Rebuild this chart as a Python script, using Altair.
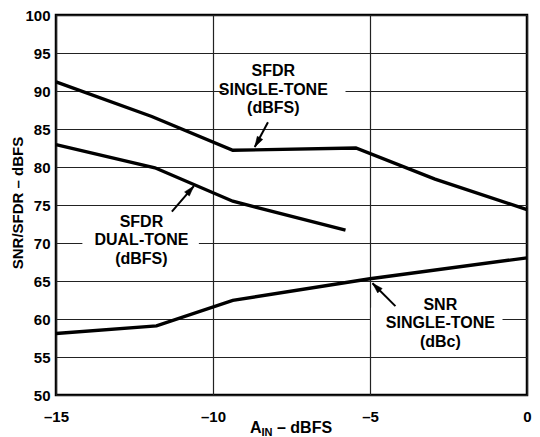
import altair as alt
import pandas as pd

# ---- data ----
sfdr_single_x = [-15, -11.95, -9.37, -5.45, -2.93, 0]
sfdr_single_y = [91.2, 86.65, 82.2, 82.5, 78.4, 74.4]
sfdr_dual_x = [-15, -11.85, -9.37, -5.78]
sfdr_dual_y = [82.95, 79.9, 75.5, 71.7]
snr_x = [-15, -11.8, -9.37, -5, 0]
snr_y = [58.1, 59.1, 62.45, 65.3, 68.05]

x_ticks = [-15, -10, -5, 0]
y_ticks = [50, 55, 60, 65, 70, 75, 80, 85, 90, 95, 100]

label_texts = ["SFDR\nSINGLE-TONE\n(dBFS)", "SFDR\nDUAL-TONE\n(dBFS)", "SNR\nSINGLE-TONE\n(dBc)"]
label_x = [-8.08, -12.28, -2.76]
label_y = [92.6, 72.8, 61.9]
gap_x1 = [-9.64, -14.16, -4.97]
gap_x2 = [-5.78, -10.45, -0.78]
gap_y = [90, 70, 60]
arrow_x1 = [-8.25, -11.31, -4.19]
arrow_y1 = [85.9, 74.12, 61.69]
arrow_x2 = [-8.67, -10.61, -4.92]
arrow_y2 = [82.63, 77.49, 64.7]
arrow_angle = [210, 41, 315]

FONT = "Liberation Sans"

lines_df = pd.concat([
    pd.DataFrame({"x": sfdr_single_x, "y": sfdr_single_y, "s": "SFDR single"}),
    pd.DataFrame({"x": sfdr_dual_x, "y": sfdr_dual_y, "s": "SFDR dual"}),
    pd.DataFrame({"x": snr_x, "y": snr_y, "s": "SNR single"}),
])
lab_df = pd.DataFrame({
    "text": label_texts, "lx": label_x, "ly": label_y,
    "gx1": gap_x1, "gx2": gap_x2,
    "gy1": [g - 1.5 for g in gap_y], "gy2": [g + 1.5 for g in gap_y],
    "ax1": arrow_x1, "ay1": arrow_y1, "ax2": arrow_x2, "ay2": arrow_y2,
    "ang": arrow_angle,
})

xs = alt.Scale(domain=[-15, 0], nice=False, zero=False)
ys = alt.Scale(domain=[50, 100], nice=False, zero=False)

x_axis = alt.Axis(values=x_ticks, title=None, grid=True, ticks=False, domain=False,
                  labelExpr="datum.value < 0 ? '\u2013' + abs(datum.value) : '' + datum.value",
                  labelFont=FONT, labelFontSize=15, labelFontWeight="bold", labelColor="black",
                  labelPadding=14, gridColor="#222", gridWidth=1.2, gridOpacity=1,
                  labelFlush=False, labelOverlap=False)
y_axis = alt.Axis(values=y_ticks, title=None, grid=True, ticks=False, domain=False,
                  labelFont=FONT, labelFontSize=15, labelFontWeight="bold", labelColor="black",
                  labelPadding=6, gridColor="#222", gridWidth=1.2, gridOpacity=1,
                  labelFlush=False, labelOverlap=False)


def X(field):
    return alt.X(field, scale=xs, axis=x_axis, title=None)


def Y(field):
    return alt.Y(field, scale=ys, axis=y_axis, title=None)


lines = alt.Chart(lines_df).mark_line(color="black", strokeWidth=3.4).encode(
    x=X("x:Q"), y=Y("y:Q"), detail="s:N",
)

gaps = alt.Chart(lab_df).mark_rect(color="white").encode(
    x=X("gx1:Q"), x2="gx2:Q", y=Y("gy1:Q"), y2="gy2:Q",
)

labels = alt.Chart(lab_df).mark_text(
    font=FONT, fontSize=16, fontWeight="bold", color="black",
    lineBreak="\n", lineHeight=18.5, align="center", baseline="middle",
).encode(x=X("lx:Q"), y=Y("ly:Q"), text="text:N")

arrows = alt.Chart(lab_df).mark_rule(color="black", strokeWidth=2).encode(
    x=X("ax1:Q"), y=Y("ay1:Q"), x2="ax2:Q", y2="ay2:Q",
)

heads = alt.Chart(lab_df).mark_point(
    shape="M0,0L-0.6,2L0.6,2Z", filled=True, fill="black", stroke="black", strokeWidth=0.5,
    opacity=1, size=110,
).encode(x=X("ax2:Q"), y=Y("ay2:Q"), angle=alt.Angle("ang:Q", scale=None))

one = pd.DataFrame({"t": ["A"]})
ytitle = alt.Chart(one).mark_text(
    text="SNR/SFDR \u2013 dBFS", font=FONT, fontSize=15, fontWeight="bold", color="black",
    angle=270, align="center", baseline="middle",
).encode(x=alt.value(-38), y=alt.value(188))

xt_a = alt.Chart(one).mark_text(
    text="A", font=FONT, fontSize=16, fontWeight="bold", color="black", align="left", baseline="alphabetic",
).encode(x=alt.value(194), y=alt.value(418))
xt_in = alt.Chart(one).mark_text(
    text="IN", font=FONT, fontSize=11, fontWeight="bold", color="black", align="left", baseline="alphabetic",
).encode(x=alt.value(205.5), y=alt.value(421))
xt_rest = alt.Chart(one).mark_text(
    text="\u2013 dBFS", font=FONT, fontSize=16, fontWeight="bold", color="black", align="left", baseline="alphabetic",
).encode(x=alt.value(221), y=alt.value(418))

chart = alt.layer(lines, gaps, labels, arrows, heads, ytitle, xt_a, xt_in, xt_rest).properties(
    width=471, height=380,
    autosize="none",
    padding={"left": 48, "top": 7, "right": 5, "bottom": 42},
    background="white",
).configure_view(stroke="black", strokeWidth=2.5)

chart.save("out.html", embed_options={"renderer": "svg", "actions": False})
